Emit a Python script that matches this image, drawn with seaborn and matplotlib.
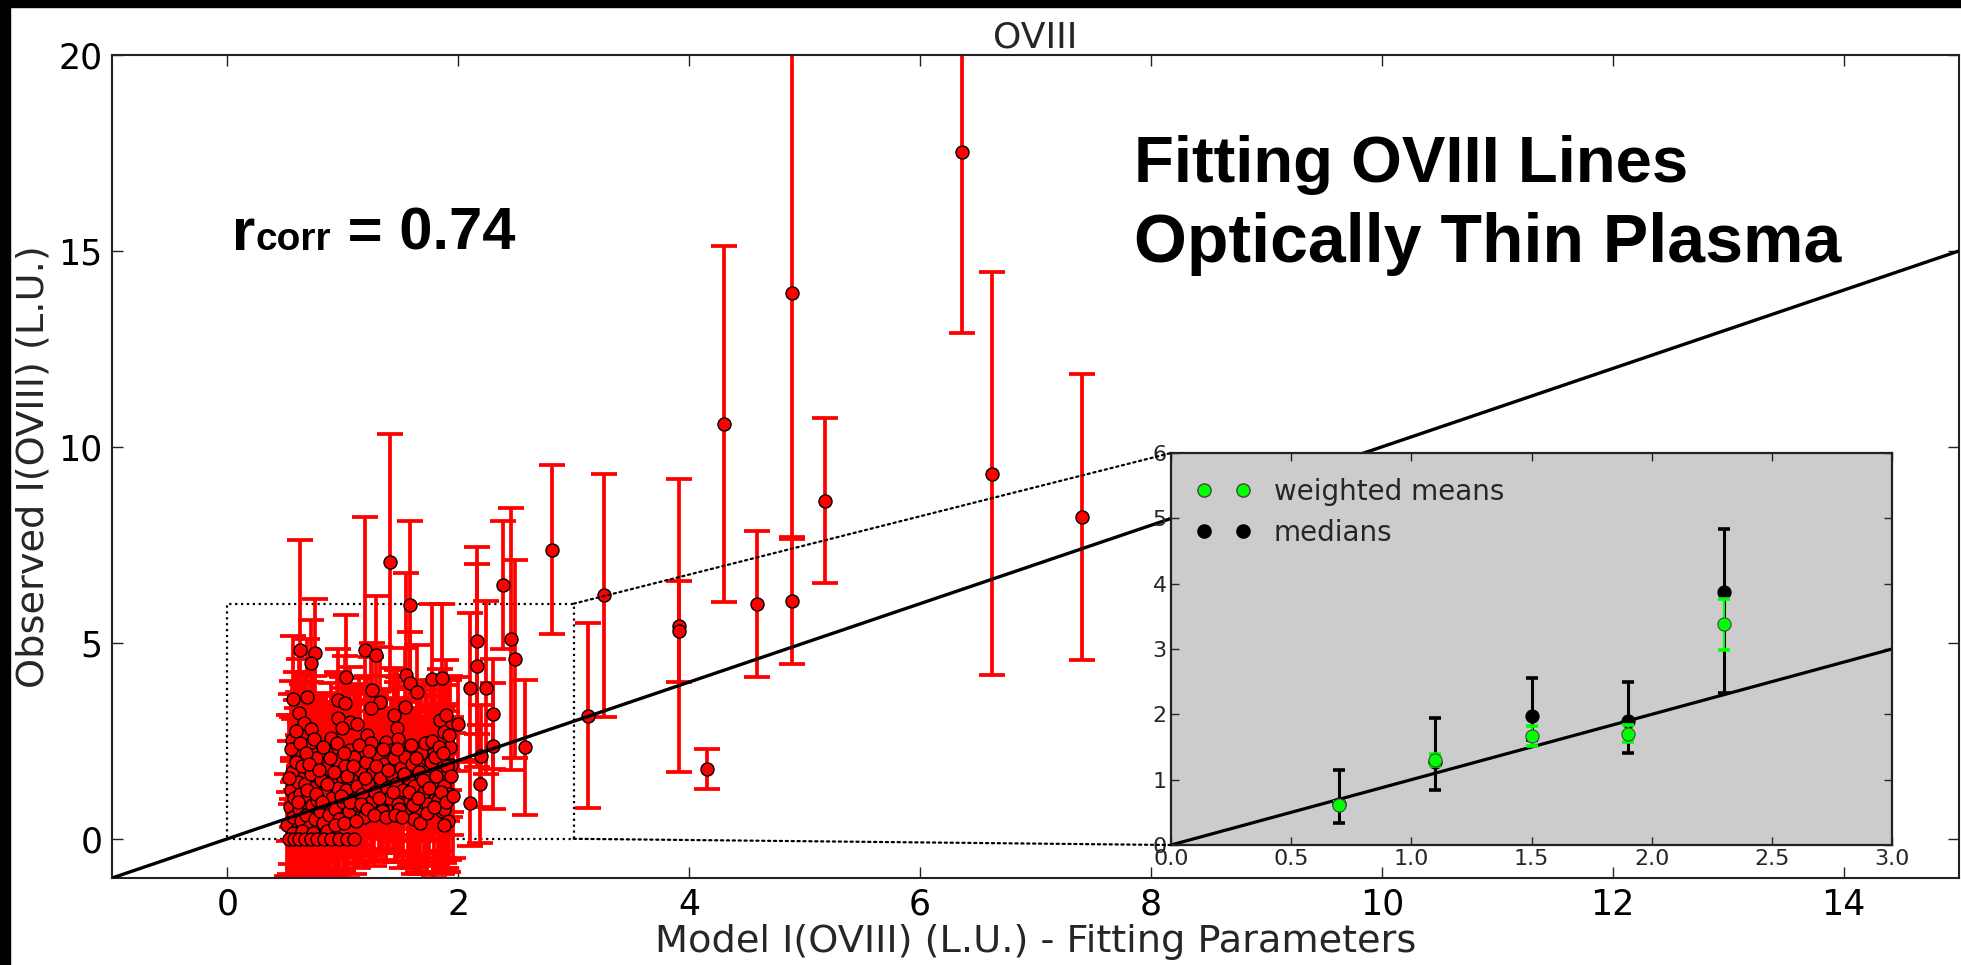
import numpy as np
import pandas as pd
import matplotlib
matplotlib.use("Agg")
import matplotlib.pyplot as plt
import seaborn as sns
from matplotlib.patches import Rectangle, ConnectionPatch
from matplotlib.lines import Line2D

# ---------------- data ----------------
# (model intensity, observed intensity, observed error)
outliers = [
    (2.81, 7.38, 2.15), (3.26, 6.22, 3.10), (3.12, 3.14, 2.36), (3.91, 5.44, 3.74),
    (3.91, 5.30, 1.29), (4.15, 1.77, 0.51), (4.30, 10.58, 4.55), (4.59, 5.99, 1.86),
    (4.89, 13.92, 6.28), (4.89, 6.07, 1.62), (5.18, 8.63, 2.10), (6.36, 17.52, 4.62),
    (6.62, 9.32, 5.15), (7.40, 8.20, 3.65),
]
cluster_right = [
    (2.39, 6.48, 1.64), (2.46, 5.10, 3.35), (2.49, 4.59, 2.52), (2.58, 2.33, 1.72),
    (2.16, 5.06, 2.38), (2.16, 4.42, 2.60), (2.10, 3.86, 1.90), (2.24, 3.86, 2.20),
    (2.30, 3.18, 1.40), (2.30, 2.37, 1.60), (2.20, 2.11, 1.30), (2.19, 1.40, 1.50),
    (2.10, 0.91, 1.10), (2.00, 2.93, 1.20),
]
cluster_upper = [
    (1.41, 7.07, 3.26), (1.58, 5.97, 2.15), (0.625, 4.82, 2.80), (0.76, 4.73, 1.40),
    (0.72, 4.48, 1.10), (1.19, 4.82, 3.40), (1.29, 4.69, 1.50), (1.03, 4.12, 1.60),
    (1.55, 4.18, 2.60), (1.58, 3.97, 1.30), (1.64, 3.74, 1.20), (1.77, 4.09, 1.90),
    (1.86, 4.10, 1.90), (1.25, 3.80, 1.20), (1.32, 3.50, 1.40), (1.54, 3.36, 1.50),
    (1.24, 3.35, 1.30), (0.57, 3.58, 1.60), (0.69, 3.61, 1.50), (0.96, 3.54, 1.30),
    (1.02, 3.46, 1.20), (0.62, 3.20, 1.40), (0.66, 2.95, 1.30), (1.44, 3.16, 1.20),
    (1.47, 2.82, 1.50), (1.84, 3.03, 1.30), (1.89, 3.16, 1.40), (1.88, 2.73, 1.20),
    (0.96, 3.07, 1.10), (1.06, 2.99, 1.40), (1.12, 2.92, 1.00), (0.99, 2.82, 1.30),
    (0.72, 2.79, 1.20), (1.21, 2.65, 1.50), (1.24, 2.44, 1.10), (1.37, 2.46, 1.30),
    (1.48, 2.54, 1.60), (1.73, 2.44, 1.20), (0.56, 2.52, 1.50), (0.73, 2.48, 1.10),
    (0.90, 2.57, 1.40), (1.06, 2.27, 1.20), (1.42, 2.27, 1.30), (1.55, 2.20, 1.10),
    (0.85, 2.22, 1.50), (0.60, 2.14, 1.20), (1.74, 2.01, 1.40), (1.86, 2.01, 1.30),
    (1.94, 1.88, 1.20),
]
cluster_lower = [
    (0.52, 0.35, 1.3), (0.54, 0.80, 1.7), (0.55, 1.25, 1.9), (0.56, 1.70, 1.4),
    (0.57, 0.55, 1.5), (0.58, 1.05, 2.0), (0.59, 1.95, 1.6), (0.60, 0.25, 1.2),
    (0.61, 1.45, 2.3), (0.62, 0.75, 1.1), (0.63, 1.15, 1.8), (0.64, 0.45, 1.4),
    (0.65, 1.85, 2.1), (0.66, 0.95, 1.9), (0.67, 1.40, 1.2), (0.68, 0.60, 1.6),
    (0.70, 1.10, 2.0), (0.71, 0.30, 1.3), (0.72, 1.65, 1.5), (0.73, 0.85, 1.8),
    (0.75, 1.30, 2.2), (0.76, 0.50, 1.4), (0.77, 2.05, 1.3), (0.78, 1.00, 1.7),
    (0.80, 0.70, 1.5), (0.81, 1.50, 2.0), (0.83, 0.40, 1.4), (0.84, 1.20, 1.6),
    (0.85, 1.80, 1.9), (0.87, 0.90, 1.3), (0.88, 0.60, 1.6), (0.90, 1.45, 1.8),
    (0.91, 1.05, 1.2), (0.93, 0.75, 1.7), (0.94, 2.00, 1.5), (0.96, 1.30, 2.1),
    (0.97, 0.50, 1.4), (0.99, 1.60, 1.3), (1.00, 0.95, 1.8), (1.02, 1.85, 2.0),
    (1.03, 1.25, 1.5), (1.05, 0.70, 1.2), (1.07, 1.55, 1.9), (1.08, 1.00, 1.4),
    (1.10, 2.10, 1.7), (1.12, 1.35, 1.1), (1.13, 0.85, 1.6), (1.15, 1.75, 2.2),
    (1.17, 1.15, 1.3), (1.18, 0.55, 1.0), (1.20, 1.95, 1.8), (1.22, 1.40, 1.2),
    (1.24, 0.95, 1.5), (1.26, 1.70, 2.0), (1.28, 1.20, 1.1), (1.30, 2.15, 1.6),
    (1.32, 1.55, 1.3), (1.34, 0.75, 1.0), (1.36, 1.90, 1.9), (1.38, 1.30, 1.2),
    (1.40, 1.05, 1.4), (1.42, 1.65, 1.7), (1.44, 2.05, 2.1), (1.46, 1.40, 1.3),
    (1.48, 0.90, 1.5), (1.50, 1.80, 1.8), (1.52, 1.25, 1.6), (1.54, 2.10, 1.4),
    (1.56, 1.55, 2.0), (1.58, 1.00, 1.7), (1.60, 1.90, 1.2), (1.62, 1.35, 1.9),
    (1.64, 0.65, 1.3), (1.66, 1.70, 2.2), (1.68, 2.20, 1.5), (1.70, 1.20, 1.8),
    (1.72, 1.55, 1.3), (1.74, 0.90, 1.6), (1.76, 1.95, 2.0), (1.78, 1.40, 1.4),
    (1.80, 2.10, 1.9), (1.82, 1.00, 1.5), (1.84, 1.65, 1.2), (1.86, 0.70, 1.6),
    (1.88, 1.35, 2.1), (1.90, 1.85, 1.4), (1.91, 0.45, 1.3), (1.92, 1.15, 1.7),
    (1.93, 2.35, 1.8), (1.94, 1.60, 1.5), (1.88, 0.35, 1.2), (1.88, 0.77, 1.4),
    (1.62, 0.50, 1.4), (1.49, 0.77, 1.1), (1.34, 0.72, 1.3),
]
cluster_extra = [
    (0.53, 1.55, 1.6), (0.55, 2.30, 1.4), (0.57, 0.15, 1.3), (0.59, 2.75, 1.5),
    (0.61, 0.95, 1.7), (0.63, 2.45, 1.2), (0.65, 0.20, 1.4), (0.68, 2.20, 1.8),
    (0.69, 1.25, 1.5), (0.71, 1.90, 1.3), (0.74, 0.15, 1.2), (0.75, 2.55, 1.6),
    (0.77, 1.15, 1.9), (0.79, 1.75, 1.4), (0.82, 0.95, 1.7), (0.83, 2.35, 1.3),
    (0.86, 1.40, 2.0), (0.86, 0.20, 1.5), (0.89, 2.05, 1.4), (0.92, 1.70, 1.6),
    (0.93, 0.35, 1.3), (0.95, 2.45, 1.8), (0.98, 1.10, 1.2), (1.01, 0.40, 1.6),
    (1.01, 2.20, 1.5), (1.04, 1.60, 1.9), (1.06, 0.95, 1.3), (1.09, 1.85, 1.4),
    (1.11, 0.45, 1.1), (1.14, 2.40, 1.7), (1.16, 0.90, 1.5), (1.19, 1.55, 1.3),
    (1.21, 0.75, 1.2), (1.23, 2.25, 1.6), (1.27, 0.60, 1.3), (1.29, 1.85, 1.8),
    (1.31, 1.05, 1.4), (1.35, 2.30, 1.5), (1.37, 0.55, 1.1), (1.39, 1.75, 1.6),
    (1.43, 1.20, 1.5), (1.45, 0.60, 1.2), (1.47, 2.30, 1.7), (1.51, 0.55, 1.3),
    (1.53, 1.65, 1.4), (1.57, 1.20, 1.8), (1.59, 2.40, 1.5), (1.61, 0.85, 1.6),
    (1.63, 2.05, 1.3), (1.65, 1.05, 1.9), (1.67, 0.40, 1.3), (1.69, 1.50, 1.4),
    (1.71, 2.45, 1.6), (1.73, 0.65, 1.5), (1.75, 1.30, 1.7), (1.77, 2.50, 1.3),
    (1.79, 0.80, 1.8), (1.81, 1.60, 1.4), (1.83, 2.35, 1.6), (1.85, 1.20, 1.5),
    (1.87, 2.20, 1.2), (1.89, 0.95, 1.7), (1.92, 2.65, 1.4), (1.95, 1.10, 1.6),
]
cluster_zero = [
    (0.53, 0.0, 1.2), (0.58, 0.0, 1.5), (0.62, 0.0, 1.0), (0.67, 0.0, 1.8),
    (0.72, 0.0, 1.3), (0.78, 0.0, 1.1), (0.84, 0.0, 1.6), (0.90, 0.0, 1.4),
    (0.97, 0.0, 1.2), (1.04, 0.0, 1.0), (1.10, 0.0, 0.9),
]
one_to_one = [-1, 15]

# inset: binned statistics
bin_x = [0.7, 1.1, 1.5, 1.9, 2.3]
wmean = [0.61, 1.30, 1.67, 1.70, 3.38]
wmean_err = [0.05, 0.09, 0.15, 0.13, 0.39]
median = [0.63, 1.27, 1.97, 1.90, 3.88]
median_lo = [0.33, 0.84, 1.60, 1.41, 2.32]
median_hi = [1.15, 1.95, 2.55, 2.49, 4.84]
inset_line = [0, 3]

# ---------------- style ----------------
sns.set_theme(style="ticks", rc={
    "xtick.direction": "in", "ytick.direction": "in",
    "xtick.top": True, "ytick.right": True,
    "axes.edgecolor": "#222222", "axes.linewidth": 1.5,
})
plt.rcParams["font.family"] = ["DejaVu Sans"]

W, H = 1961, 965
fig = plt.figure(figsize=(W / 100, H / 100), dpi=100)
fig.patch.set_facecolor("white")

ax = fig.add_axes([112 / W, 1 - 878 / H, (1959 - 112) / W, (878 - 55) / H])

df = pd.DataFrame(outliers + cluster_right + cluster_upper + cluster_lower
                  + cluster_extra + cluster_zero,
                  columns=["model", "observed", "err"])

ax.errorbar(df["model"], df["observed"], yerr=df["err"], fmt="none",
            ecolor="#ff0000", elinewidth=2.7, capsize=9.5, capthick=2.7, zorder=2)
sns.scatterplot(data=df, x="model", y="observed", ax=ax, color="#ff0000",
                edgecolor="black", linewidth=1.0, s=88, zorder=3, legend=False)
ax.plot(one_to_one, one_to_one, color="black", lw=2.4, zorder=4)

ax.set_xlim(-1, 15)
ax.set_ylim(-1, 20)
ax.set_xticks(np.arange(0, 15, 2))
ax.set_yticks([0, 5, 10, 15, 20])
ax.tick_params(axis="both", labelsize=25, length=8, width=1, pad=7, colors="#222222",
               labelcolor="black")
ax.set_xlabel("Model I(OVIII) (L.U.) - Fitting Parameters", fontsize=27.5, labelpad=2)
ax.set_ylabel("Observed I(OVIII) (L.U.)", fontsize=27.5, labelpad=5)
ax.set_title("OVIII", fontsize=26, pad=2)

# zoom rectangle
ax.add_patch(Rectangle((0, 0), 3, 6, fill=False, ls=":", lw=1.6, ec="black", zorder=1))

# ---------------- inset ----------------
axins = fig.add_axes([1171 / W, 1 - 845 / H, (1892 - 1171) / W, (845 - 453) / H])
axins.set_facecolor("#cccccc")
axins.plot(inset_line, inset_line, color="black", lw=2.3, zorder=1.5)
yerr_med = [np.array(median) - np.array(median_lo), np.array(median_hi) - np.array(median)]
axins.errorbar(bin_x, median, yerr=yerr_med, fmt="none", ecolor="black",
               elinewidth=2.2, capsize=4.5, capthick=2.6, zorder=2)
sns.scatterplot(x=bin_x, y=median, ax=axins, color="black", edgecolor="black",
                s=90, zorder=3, legend=False)
axins.errorbar(bin_x, wmean, yerr=wmean_err, fmt="none", ecolor="#00ff00",
               elinewidth=1.5, capsize=4.5, capthick=2.6, zorder=4)
sns.scatterplot(x=bin_x, y=wmean, ax=axins, color="#00ff00", edgecolor="#444444",
                linewidth=0.8, s=90, zorder=5, legend=False)
axins.set_xlim(0, 3)
axins.set_ylim(0, 6)
axins.set_xticks(np.arange(0, 3.01, 0.5))
axins.set_yticks(range(0, 7))
axins.tick_params(axis="both", labelsize=16, length=6, width=1, pad=3)
for s in axins.spines.values():
    s.set_linewidth(1.6)
    s.set_color("#222222")

handles = [
    Line2D([], [], marker="o", ls="none", mfc="#00ff00", mec="#444444", ms=9.5),
    Line2D([], [], marker="o", ls="none", mfc="black", mec="black", ms=9.5),
]
axins.legend(handles, ["weighted means", "medians"], numpoints=2, frameon=False,
             loc="upper left", fontsize=20, handlelength=2.0, handletextpad=0.8,
             labelspacing=0.45)

# connectors
for ya in (6, 0):
    con = ConnectionPatch(xyA=(3, ya), coordsA=ax.transData, xyB=(0, ya),
                          coordsB=axins.transData, ls=":", lw=1.6, color="black")
    fig.add_artist(con)

# ---------------- annotations ----------------
bold = dict(family=["Liberation Sans", "DejaVu Sans"], fontweight="bold", color="black")
fig.text(1134 / W, 1 - 182 / H, "Fitting OVIII Lines", fontsize=47, va="baseline", **bold)
fig.text(1134 / W, 1 - 262 / H, "Optically Thin Plasma", fontsize=49, va="baseline", **bold)

renderer = fig.canvas.get_renderer()
base = 1 - 250 / H
t1 = fig.text(232 / W, base, "r", fontsize=43, va="baseline", **bold)
bb1 = t1.get_window_extent(renderer=renderer)
t2 = fig.text(bb1.x1 / W, base, "corr", fontsize=28, va="baseline", **bold)
bb2 = t2.get_window_extent(renderer=renderer)
fig.text(bb2.x1 / W, base, " = 0.74", fontsize=43, va="baseline", **bold)

# black frame edges of the original screenshot
fig.add_artist(Rectangle((0, 0), 10 / W, 1, transform=fig.transFigure,
                         color="black", zorder=20))
fig.add_artist(Rectangle((0, 1 - 7 / H), 1, 7 / H, transform=fig.transFigure,
                         color="black", zorder=20))

fig.savefig("out.png", dpi=100)
